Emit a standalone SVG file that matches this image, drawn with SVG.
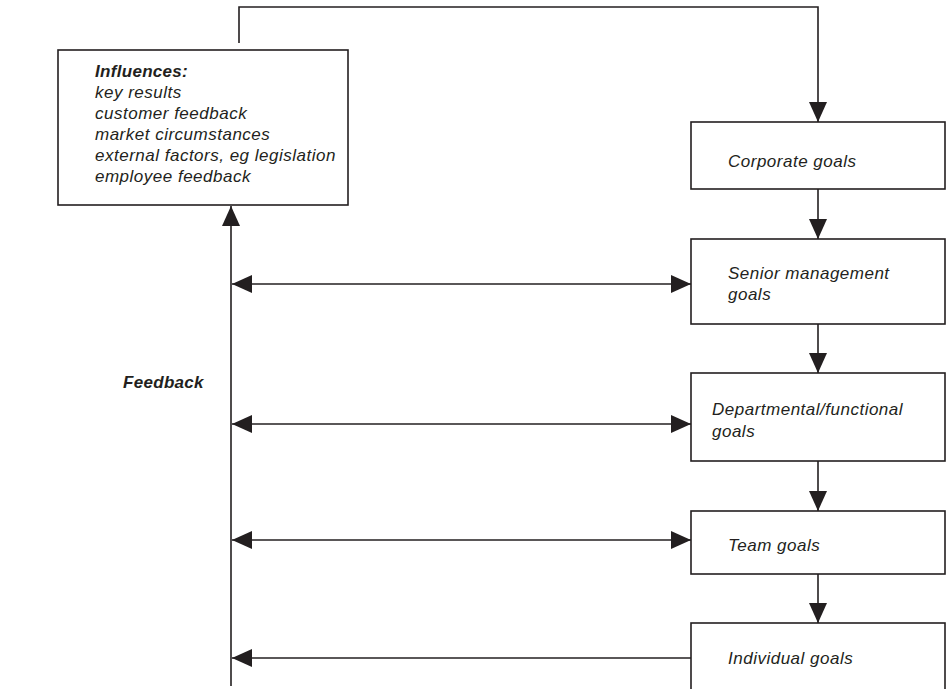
<svg xmlns="http://www.w3.org/2000/svg" width="946" height="689" viewBox="0 0 946 689">
<style>
.box{fill:#fff;stroke:#231f20;stroke-width:1.6}
.ln{fill:none;stroke:#231f20;stroke-width:1.6}
.t{font-family:"Liberation Sans",Arial,sans-serif;font-style:italic;font-size:17px;letter-spacing:0.5px;fill:#231f20;font-weight:400}
.b{font-weight:700;letter-spacing:0.3px}
</style>
<defs>
<marker id="ah" viewBox="0 0 20 18" refX="20" refY="9" markerWidth="20" markerHeight="18" markerUnits="userSpaceOnUse" orient="auto-start-reverse">
<path d="M0,0 L20,9 L0,18 Z" fill="#231f20"/>
</marker>
</defs>
<rect width="946" height="689" fill="#fff"/>
<g id="connectors">
<path class="ln" d="M239,43 V7 H818 V122" marker-end="url(#ah)"/>
<path class="ln" d="M818,189 V239" marker-end="url(#ah)"/>
<path class="ln" d="M818,324 V373" marker-end="url(#ah)"/>
<path class="ln" d="M818,461 V511" marker-end="url(#ah)"/>
<path class="ln" d="M818,574 V623" marker-end="url(#ah)"/>
<path class="ln" d="M231,686 V206" marker-end="url(#ah)"/>
<path class="ln" d="M232,284 H691" marker-start="url(#ah)" marker-end="url(#ah)"/>
<path class="ln" d="M232,424 H691" marker-start="url(#ah)" marker-end="url(#ah)"/>
<path class="ln" d="M232,540 H691" marker-start="url(#ah)" marker-end="url(#ah)"/>
<path class="ln" d="M691,658 H232" marker-end="url(#ah)"/>
</g>
<g id="influences">
<rect class="box" x="58" y="50" width="290" height="155"/>
<text class="t b" x="95" y="77">Influences:</text>
<text class="t" x="95" y="98">key results</text>
<text class="t" x="95" y="119">customer feedback</text>
<text class="t" x="95" y="140">market circumstances</text>
<text class="t" x="95" y="161">external factors, eg legislation</text>
<text class="t" x="95" y="182">employee feedback</text>
</g>
<g id="feedback">
<text class="t b" x="123" y="388">Feedback</text>
</g>
<g id="corporate">
<rect class="box" x="691" y="122" width="254" height="67"/>
<text class="t" x="728" y="167">Corporate goals</text>
</g>
<g id="senior">
<rect class="box" x="691" y="239" width="254" height="85"/>
<text class="t" x="728" y="279">Senior management</text>
<text class="t" x="728" y="300">goals</text>
</g>
<g id="departmental">
<rect class="box" x="691" y="373" width="254" height="88"/>
<text class="t" x="712" y="415">Departmental/functional</text>
<text class="t" x="712" y="437">goals</text>
</g>
<g id="team">
<rect class="box" x="691" y="511" width="254" height="63"/>
<text class="t" x="728" y="551">Team goals</text>
</g>
<g id="individual">
<rect class="box" x="691" y="623" width="254" height="80"/>
<text class="t" x="728" y="664">Individual goals</text>
</g>
</svg>
